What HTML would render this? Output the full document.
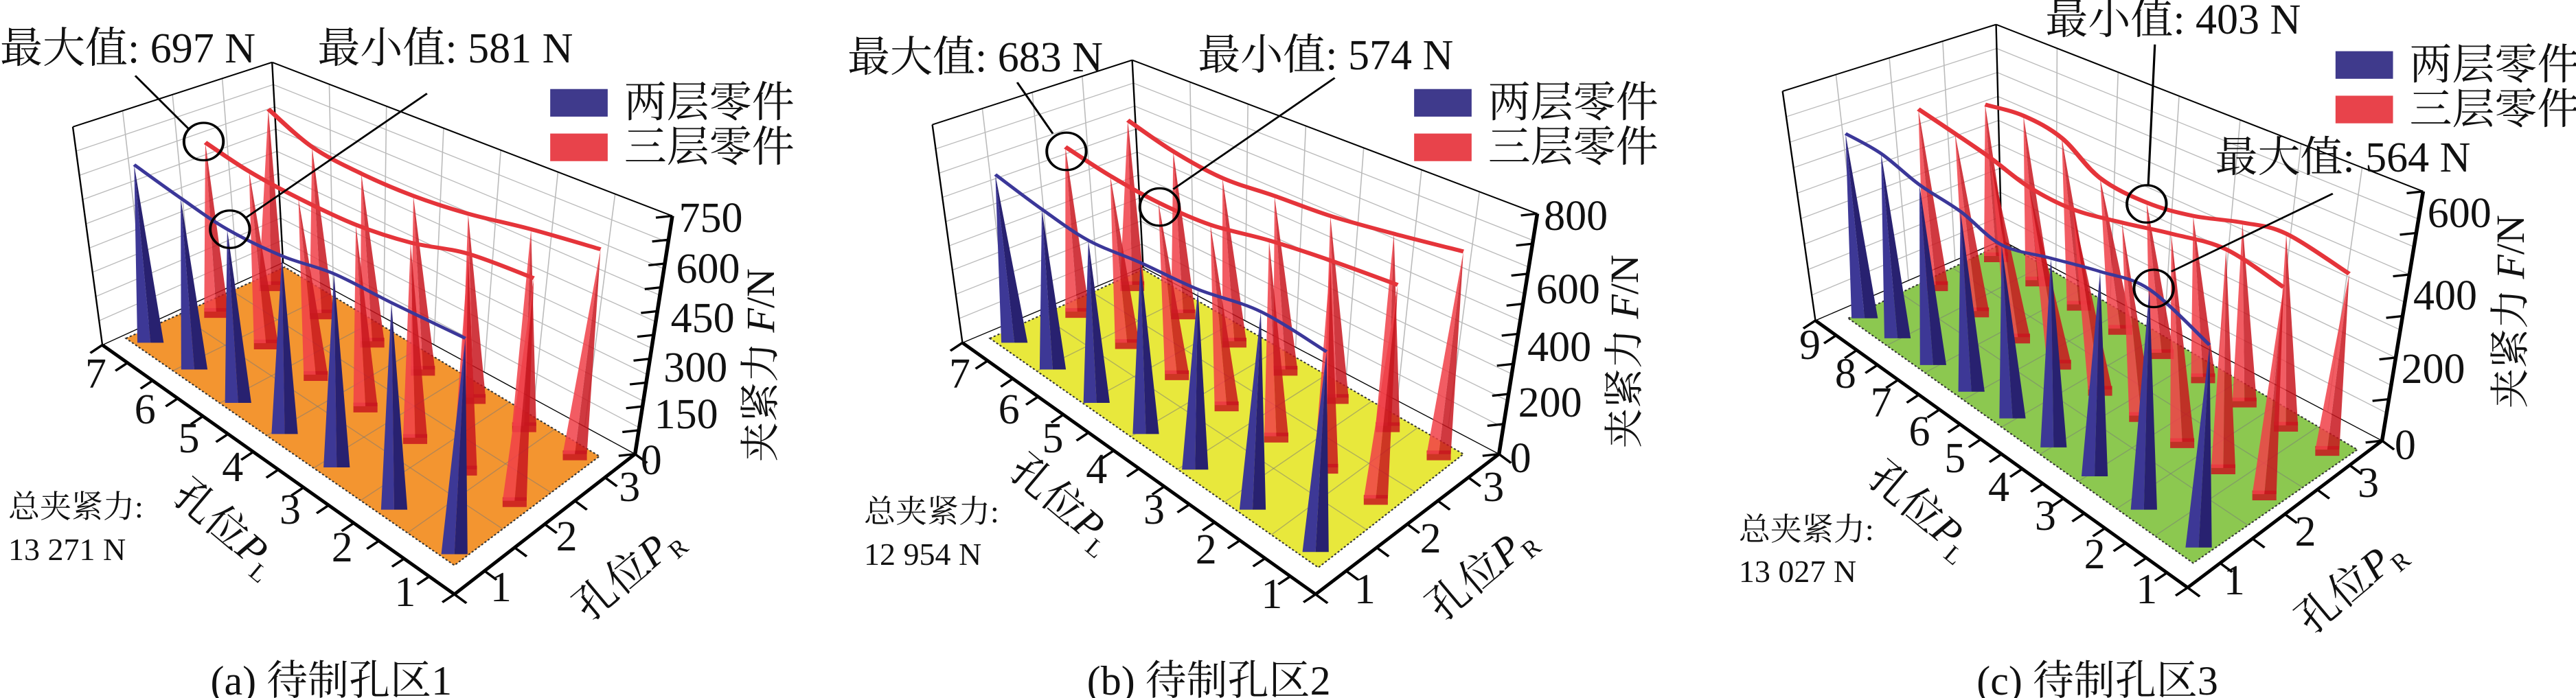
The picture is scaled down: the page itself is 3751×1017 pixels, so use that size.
<!DOCTYPE html>
<html><head><meta charset="utf-8">
<style>
html,body{margin:0;padding:0;background:#fff;}
#root{position:relative;width:3751px;height:1017px;overflow:hidden;background:#fff;font-family:"Liberation Serif","Noto Serif CJK SC",serif;color:#111;}
svg.p{position:absolute;top:0;width:1250px;height:1017px;}
.t{position:absolute;white-space:nowrap;line-height:1;}
sub{font-size:0.6em;vertical-align:-0.35em;}
</style></head>
<body><div id="root"></div>
<script>
const root=document.getElementById('root');
const SX=1250/1568, SY=1017/1568;
function txt(s,zx,zy,size,off,anchor,rot){
  const d=document.createElement('div');d.className='t';d.innerHTML=s;
  d.style.fontSize=size+'px';
  d.style.left=(zx*SX+off)+'px';d.style.top=(zy*SY)+'px';
  const tx=anchor==='c'?'-50%':'0';
  d.style.transform='translate('+tx+',-50%)'+(rot?' rotate('+rot+'deg)':'');
  d.style.transformOrigin=anchor==='c'?'50% 50%':'0 50%';
  if(rot&&anchor==='c'){d.style.transform='translate(-50%,-50%) rotate('+rot+'deg)';}
  root.appendChild(d);
}
function lerp(a,b,t){return [a[0]+(b[0]-a[0])*t,a[1]+(b[1]-a[1])*t];}
function interp(a,b,n){const r=[];for(let i=0;i<n;i++)r.push(lerp(a,b,n===1?0:i/(n-1)));return r;}
function pts(a){return a.map(p=>p[0].toFixed(1)+','+p[1].toFixed(1)).join(' ');}
function curve(a){
  let d='M'+a[0][0]+','+a[0][1];
  for(let i=0;i<a.length-1;i++){
    const p0=a[Math.max(0,i-1)],p1=a[i],p2=a[i+1],p3=a[Math.min(a.length-1,i+2)];
    const c1=[p1[0]+(p2[0]-p0[0])/6,p1[1]+(p2[1]-p0[1])/6];
    const c2=[p2[0]-(p3[0]-p1[0])/6,p2[1]-(p3[1]-p1[1])/6];
    d+=' C'+c1+' '+c2+' '+p2;
  }
  return d;
}
function panel(P,off){
  let s='<svg class="p" style="left:'+off+'px" viewBox="0 0 1568 1568" preserveAspectRatio="none">';
  const L=(a,b,w,c,ex)=>'<line x1="'+a[0]+'" y1="'+a[1]+'" x2="'+b[0]+'" y2="'+b[1]+'" stroke="'+(c||'#000')+'" stroke-width="'+w+'" '+(ex||'')+'/>';
  const {TL,BL,TB,BB,TR,BR,FR}=P;
  for(let i=1;i<4;i++){s+=L(lerp(TL,TB,i/4),lerp(BL,BB,i/4),2,'#bbb');}
  for(let i=1;i<9;i++){s+=L(lerp(TL,BL,i/9),lerp(TB,BB,i/9),2,'#bbb');}
  for(let i=1;i<7;i++){s+=L(lerp(TB,TR,i/7),lerp(BB,BR,i/7),2,'#bbb');}
  for(let i=1;i<9;i++){s+=L(lerp(TB,BB,i/9),lerp(TR,BR,i/9),2,'#bbb');}
  s+=L(TL,TB,3)+L(TB,TR,3)+L(TL,BL,3)+L(TB,BB,3)+L(BL,BB,2)+L(BB,BR,2);
  s+='<polygon points="'+pts(P.floor)+'" fill="'+P.fc+'" stroke="#333" stroke-width="3" stroke-dasharray="4,4"/>';
  const f=P.floor;
  for(let i=1;i<P.n;i++){s+=L(lerp(f[0],f[3],i/P.n),lerp(f[1],f[2],i/P.n),2,'rgba(120,120,120,0.5)');}
  for(let i=1;i<3;i++){s+=L(lerp(f[0],f[1],i/3),lerp(f[3],f[2],i/3),2,'rgba(120,120,120,0.5)');}
  s+=L(BL,FR,7)+L(FR,BR,7)+L(TR,BR,7);
  for(let i=0;i<=P.n*2;i++){const p=lerp(BL,FR,i/(P.n*2));s+=L(p,[p[0]-22,p[1]+18],5);}
  for(let i=0;i<=6;i++){const p=lerp(FR,BR,i/6);s+=L(p,[p[0]+22,p[1]+20],5);}
  for(let i=0;i<=P.zt;i++){const p=lerp(BR,TR,i/P.zt);s+=L(p,[p[0]-30,p[1]+4],5);}
  const spike=(top,base,w,c1,c2,op,box)=>{
    let r='';
    if(box)r+='<polygon points="'+pts([[base[0]-w,base[1]-8],[base[0]+w,base[1]-8],[base[0]+w,base[1]+14],[base[0]-w,base[1]+14]])+'" fill="'+c2+'" opacity="'+op+'"/>';
    r+='<polygon points="'+pts([[base[0]-w,base[1]],base,top])+'" fill="'+c1+'" opacity="'+op+'"/>';
    r+='<polygon points="'+pts([base,[base[0]+w,base[1]],top])+'" fill="'+c2+'" opacity="'+op+'"/>';
    return r;
  };
  const rb=interp(P.rbB[0],P.rbB[1],P.rB.length);
  P.rB.forEach((t,i)=>s+=spike(t,rb[i],22,'#f04048','#c8161e',0.85,1));
  s+='<path d="'+curve(P.rB)+'" fill="none" stroke="#e5343a" stroke-width="9"/>';
  const ra=interp(P.rbA[0],P.rbA[1],P.rA.length);
  P.rA.forEach((t,i)=>s+=spike(t,ra[i],22,'#f04048','#c8161e',0.85,1));
  s+='<path d="'+curve(P.rA)+'" fill="none" stroke="#e5343a" stroke-width="9"/>';
  P.bT.forEach((t,i)=>s+=spike(t,P.bB[i],24,'#3d3896','#282170',1,0));
  s+='<path d="'+curve(P.bT)+'" fill="none" stroke="#3b3799" stroke-width="7"/>';
  P.circ.forEach(c=>s+='<ellipse cx="'+c[0]+'" cy="'+c[1]+'" rx="36" ry="42" fill="none" stroke="#000" stroke-width="5"/>');
  P.ann.forEach(a=>s+=L(a[0],a[1],4));
  s+='<rect x="'+P.leg[0]+'" y="'+P.leg[1]+'" width="105" height="62" fill="#3f3a8c"/>';
  s+='<rect x="'+P.leg[0]+'" y="'+(P.leg[1]+100)+'" width="105" height="62" fill="#e8434b"/>';
  s+='</svg>';
  root.insertAdjacentHTML('beforeend',s);
  txt('两层零件',P.leg[0]+135,P.leg[1]+31,62,off,'l');
  txt('三层零件',P.leg[0]+135,P.leg[1]+131,62,off,'l');
  P.zl.forEach(z=>txt(z[0],z[1],z[2],62,off,'l'));
  const n=P.pl.length;
  P.pl.forEach((p,i)=>txt(String(n-i),p[0],p[1],62,off,'c'));
  P.pr.forEach((p,i)=>txt(String(i+1),p[0],p[1],62,off,'c'));
  txt('孔位<i>P</i><sub>L</sub>',P.plT[0],P.plT[1],60,off,'c',40);
  txt('孔位<i>P</i><sub>R</sub>',P.prT[0],P.prT[1],60,off,'c',-40);
  txt('夹紧力 <i>F</i>/N',P.fT[0],P.fT[1],58,off,'c',-90);
  txt('总夹紧力:',P.tot[0],P.tot[1],46,off,'l');
  txt(P.totv,P.tot[0],P.tot[1]+95,46,off,'l');
  P.at.forEach(a=>txt(a[0],a[1],a[2],62,off,'l'));
  txt(P.cap,P.capX,1530,60,off,'c');
}
const A={
 TL:[133,285],BL:[187,775],TB:[497,140],BB:[517,590],TR:[1228,485],BR:[1160,1020],FR:[830,1335],
 floor:[[230,760],[520,600],[1095,1025],[830,1270]],fc:'#f39530',n:7,zt:10,
 bT:[[245,370],[330,445],[415,515],[515,575],[610,615],[715,680],[850,760]],
 bB:[[275,770],[355,830],[435,905],[520,975],[615,1050],[720,1145],[830,1245]],
 rA:[[375,320],[455,385],[545,445],[650,505],[750,545],[855,570],[975,625]],rbA:[[395,700],[940,1125]],
 rB:[[490,245],[570,330],[660,390],[755,440],[855,480],[970,515],[1097,560]],rbB:[[495,640],[1050,1020]],
 circ:[[372,318],[420,515]],ann:[[[247,170],[345,290]],[[780,210],[448,490]]],
 leg:[1005,200],
 zl:[['750',1240,490],['600',1235,605],['450',1225,716],['300',1212,826],['150',1195,932],['0',1170,1035]],
 pl:[[175,840],[265,920],[345,985],[425,1050],[530,1145],[625,1230],[740,1330]],
 pr:[[915,1320],[1035,1205],[1150,1095]],
 plT:[410,1190],prT:[1150,1290],fT:[1390,820],tot:[15,1140],totv:'13 271 N',
 at:[['最大值: 697 N',0,110],['最小值: 581 N',580,110]],cap:'(a) 待制孔区1',capX:605
};
const B={
 TL:[135,280],BL:[190,770],TB:[500,135],BB:[520,600],TR:[1240,480],BR:[1170,1020],FR:[835,1335],
 floor:[[240,760],[520,605],[1105,1020],[840,1275]],fc:'#e8e83c',n:7,zt:8,
 bT:[[250,392],[335,470],[420,540],[515,590],[620,650],[735,700],[855,790]],
 bB:[[285,770],[355,830],[435,905],[525,975],[615,1055],[720,1145],[835,1240]],
 rA:[[378,330],[460,395],[548,455],[643,505],[750,540],[862,585],[985,640]],rbA:[[400,700],[945,1120]],
 rB:[[492,270],[575,340],[665,400],[760,440],[862,485],[978,525],[1105,565]],rbB:[[500,640],[1060,1020]],
 circ:[[380,340],[550,465]],ann:[[[290,185],[355,300]],[[870,175],[575,425]]],
 leg:[1015,200],
 zl:[['800',1252,485],['600',1238,650],['400',1222,780],['200',1205,905],['0',1190,1030]],
 pl:[[185,840],[275,920],[355,985],[435,1055],[540,1145],[635,1235],[755,1335]],
 pr:[[925,1325],[1045,1210],[1160,1095]],
 plT:[370,1135],prT:[1140,1290],fT:[1400,790],tot:[10,1150],totv:'12 954 N',
 at:[['最大值: 683 N',-20,130],['最小值: 574 N',620,125]],cap:'(b) 待制孔区2',capX:640
};
const C={
 TL:[120,205],BL:[180,720],TB:[510,55],BB:[520,540],TR:[1290,430],BR:[1215,990],FR:[860,1320],
 floor:[[240,715],[525,545],[1170,1010],[870,1265]],fc:'#8cc850',n:9,zt:6,
 bT:[[235,300],[300,345],[370,415],[445,475],[520,550],[610,580],[700,610],[790,650],[900,775]],
 bB:[[270,715],[330,760],[395,820],[465,880],[540,940],[615,1005],[690,1070],[780,1145],[880,1230]],
 rA:[[368,245],[435,300],[500,355],[570,420],[650,470],[740,500],[830,525],[930,560],[1035,645]],rbA:[[400,640],[1000,1110]],
 rB:[[490,235],[560,260],[630,310],[700,400],[785,455],[870,485],[960,500],[1040,525],[1155,615]],rbB:[[510,575],[1115,1010]],
 circ:[[785,458],[798,648]],ann:[[[800,100],[788,415]],[[1125,435],[830,610]]],
 leg:[1130,115],
 zl:[['600',1298,480],['400',1272,665],['200',1250,830],['0',1238,1000]],
 pl:[[170,775],[235,840],[300,905],[370,970],[435,1030],[515,1095],[600,1160],[690,1245],[785,1325]],
 pr:[[945,1305],[1075,1195],[1190,1085]],
 plT:[370,1150],prT:[1160,1320],fT:[1450,700],tot:[40,1190],totv:'13 027 N',
 at:[['最小值: 403 N',600,45],['最大值: 564 N',910,355]],cap:'(c) 待制孔区3',capX:695
};
panel(A,0);panel(B,1250);panel(C,2500);
</script>
</body></html>
